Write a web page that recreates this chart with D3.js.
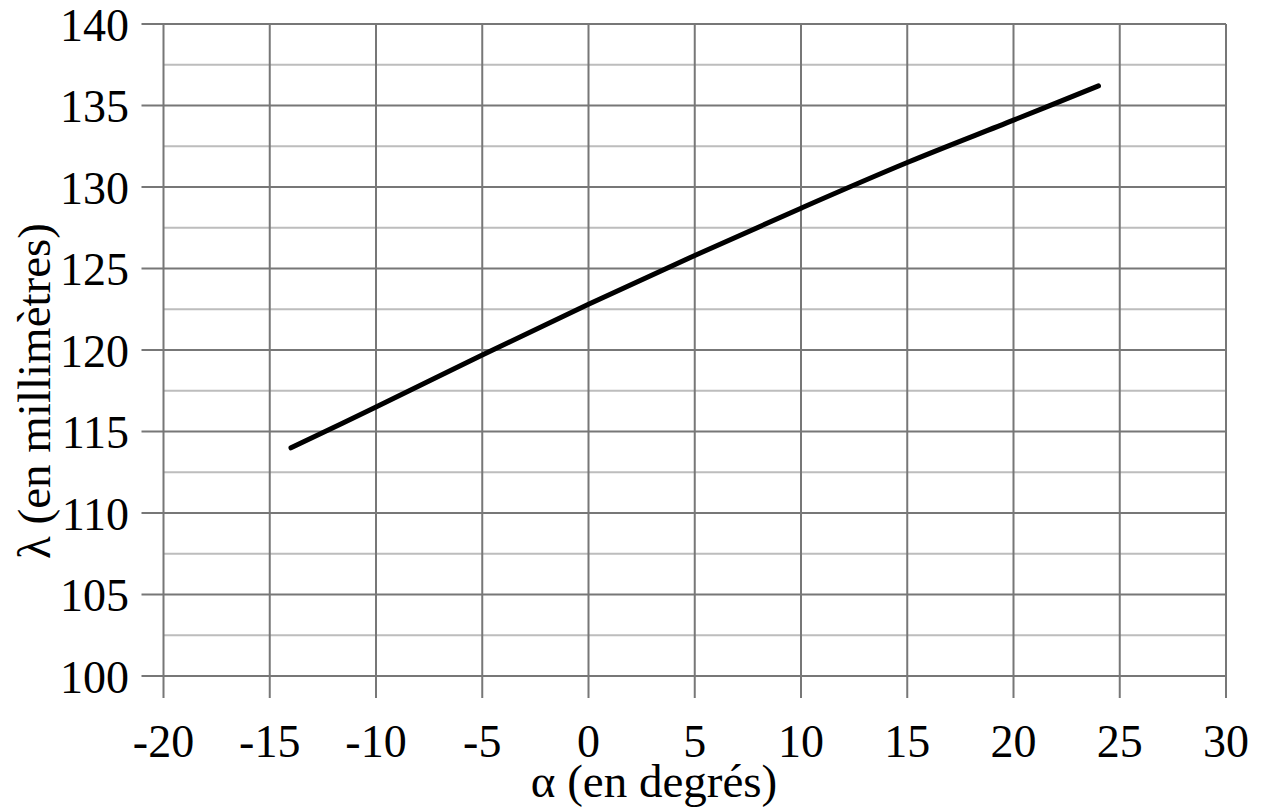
<!DOCTYPE html>
<html>
<head>
<meta charset="utf-8">
<script src="https://cdnjs.cloudflare.com/ajax/libs/d3/7.8.5/d3.min.js"></script>
<style>
  body { margin: 0; background: #fff; }
  svg text { font-family: "Liberation Serif", "Times New Roman", serif; fill: #000; }
</style>
</head>
<body>
<div id="graph"></div>
<script>
//Data
var alpha = [-14, -10, -5, 0, 5, 10, 15, 20, 24];
var lambda = [114.0, 116.5, 119.7, 122.8, 125.8, 128.7, 131.5, 134.1, 136.2];
var xTicks = [-20, -15, -10, -5, 0, 5, 10, 15, 20, 25, 30];
var yTicks = [100, 105, 110, 115, 120, 125, 130, 135, 140];
var yMinor = [102.5, 107.5, 112.5, 117.5, 122.5, 127.5, 132.5, 137.5];

var width = 1264, height = 810;
//plot box (note: "top" is taken by window.top)
var plotLeft = 163.5, plotRight = 1226, plotTop = 24, plotBottom = 676;

var svg = d3.select("#graph").append("svg")
  .attr("width", width).attr("height", height);

var x = d3.scaleLinear().domain([-20, 30]).range([plotLeft, plotRight]);
var y = d3.scaleLinear().domain([100, 140]).range([plotBottom, plotTop]);

//minor horizontal grid
svg.append("g").selectAll("line")
  .data(yMinor).enter().append("line")
  .attr("x1", plotLeft).attr("x2", plotRight)
  .attr("y1", function(d) { return y(d); })
  .attr("y2", function(d) { return y(d); })
  .attr("stroke", "#bdbdbd").attr("stroke-width", 2);

//major horizontal grid + ticks
svg.append("g").selectAll("line")
  .data(yTicks).enter().append("line")
  .attr("x1", plotLeft - 22).attr("x2", plotRight)
  .attr("y1", function(d) { return y(d); })
  .attr("y2", function(d) { return y(d); })
  .attr("stroke", "#777").attr("stroke-width", 2);

//vertical grid + ticks
svg.append("g").selectAll("line")
  .data(xTicks).enter().append("line")
  .attr("x1", function(d) { return x(d); })
  .attr("x2", function(d) { return x(d); })
  .attr("y1", plotTop).attr("y2", plotBottom + 22)
  .attr("stroke", "#777").attr("stroke-width", 2);

//tick labels
svg.append("g").selectAll("text")
  .data(yTicks).enter().append("text")
  .attr("x", 129)
  .attr("y", function(d) { return y(d); })
  .attr("dy", "0.36em")
  .attr("text-anchor", "end")
  .attr("font-size", 46)
  .text(function(d) { return d; });

svg.append("g").selectAll("text")
  .data(xTicks).enter().append("text")
  .attr("x", function(d) { return x(d); })
  .attr("y", 757)
  .attr("text-anchor", "middle")
  .attr("font-size", 46)
  .text(function(d) { return d; });

//axis titles
svg.append("text")
  .attr("x", 654).attr("y", 797)
  .attr("text-anchor", "middle")
  .attr("font-size", 47)
  .text("α (en degrés)");

svg.append("text")
  .attr("transform", "translate(50,391) rotate(-90)")
  .attr("text-anchor", "middle")
  .attr("font-size", 47)
  .text("λ (en millimètres)");

//the curve
var pts = alpha.map(function(a, i) { return [a, lambda[i]]; });
svg.append("path")
  .datum(pts)
  .attr("fill", "none")
  .attr("stroke", "#000")
  .attr("stroke-width", 5)
  .attr("stroke-linecap", "round")
  .attr("d", d3.line()
    .x(function(d) { return x(d[0]); })
    .y(function(d) { return y(d[1]); })
    .curve(d3.curveCatmullRom));
</script>
</body>
</html>
